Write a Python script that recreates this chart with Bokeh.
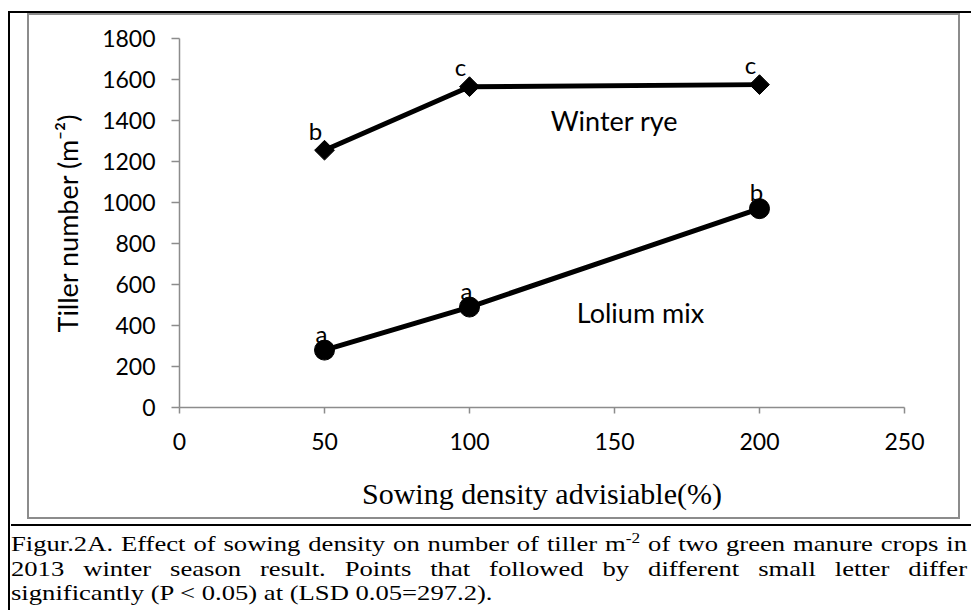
from bokeh.plotting import figure
from bokeh.models import Range1d, FixedTicker, Label, Div
from bokeh.layouts import column
from bokeh.embed import file_html
from bokeh.resources import INLINE
from bokeh.core.properties import value

# ---- data ----
density = [50, 100, 200]
winter_rye = [1255, 1565, 1575]
lolium_mix = [280, 490, 970]
rye_letters = ["b", "c", "c"]
lolium_letters = ["a", "a", "b"]
x_ticks = [0, 50, 100, 150, 200, 250]
y_ticks = [0, 200, 400, 600, 800, 1000, 1200, 1400, 1600, 1800]

SANS = "Lato"
SERIF = "Liberation Serif"
AXIS_GRAY = "#8c8c8c"

W, H = 929, 502
p = figure(width=W, height=H, x_range=Range1d(0, 250), y_range=Range1d(0, 1800),
           output_backend="svg", toolbar_location=None,
           min_border_left=150, min_border_right=W - 875,
           min_border_top=23, min_border_bottom=H - 392,
           margin=(2, 0, 7, 19),
           styles={"outline": f"2px solid {AXIS_GRAY}"})
p.outline_line_color = None
p.xgrid.visible = False
p.ygrid.visible = False
p.background_fill_color = "white"
p.border_fill_color = "white"

p.xaxis.ticker = FixedTicker(ticks=x_ticks)
p.yaxis.ticker = FixedTicker(ticks=y_ticks)
for ax in (p.xaxis, p.yaxis):
    ax.axis_line_color = AXIS_GRAY
    ax.axis_line_width = 1.5
    ax.major_tick_line_color = AXIS_GRAY
    ax.major_tick_line_width = 1.5
    ax.minor_tick_line_color = None
    ax.major_tick_in = 0
    ax.major_label_text_font = SANS
    ax.major_label_text_font_size = "23px"
    ax.major_label_text_color = "black"
    ax.axis_label_text_color = "black"
    ax.axis_label_text_font_style = "normal"

p.xaxis.major_tick_out = 6
p.yaxis.major_tick_out = 8
p.xaxis.major_label_standoff = 19
p.yaxis.major_label_standoff = 16

p.xaxis.axis_label = "Sowing density advisiable(%)"
p.xaxis.axis_label_text_font = SERIF
p.xaxis.axis_label_text_font_size = "30px"
p.xaxis.axis_label_standoff = 24

p.yaxis.axis_label = "Tiller number (m\u207b\u00b2)"
p.yaxis.axis_label_text_font = SANS
p.yaxis.axis_label_text_font_size = "27px"
p.yaxis.axis_label_standoff = 15

# ---- series ----
p.line(density, winter_rye, line_color="black", line_width=5)
p.scatter(density, winter_rye, marker="square", angle=0.785398, size=14,
          fill_color="black", line_color="black")
p.line(density, lolium_mix, line_color="black", line_width=5)
p.scatter(density, lolium_mix, marker="circle", size=20,
          fill_color="black", line_color="black")

p.text(density, winter_rye, text=rye_letters, x_offset=-9, y_offset=-20,
       text_align="center", text_baseline="alphabetic",
       text_font=value(SANS), text_font_size="24px", text_color="black")
p.text(density, lolium_mix, text=lolium_letters, x_offset=-3, y_offset=-17,
       text_align="center", text_baseline="alphabetic",
       text_font=value(SANS), text_font_size="24px", text_color="black")

p.add_layout(Label(x=128, y=1400, text="Winter rye", text_baseline="alphabetic",
                   text_font=SANS, text_font_size="27px", text_color="black"))
p.add_layout(Label(x=137, y=462, text="Lolium mix", text_baseline="alphabetic",
                   text_font=SANS, text_font_size="27px", text_color="black"))

# ---- caption ----
k = 1.21
inner_w = 956 / k
cap_html = (
    f'<div style="font-family:\'Liberation Serif\',serif;font-size:22px;line-height:24.5px;'
    f'color:#000;width:{inner_w:.1f}px;transform:scaleX({k});transform-origin:0 0;padding-top:6px;">'
    '<div style="text-align:justify;text-align-last:justify;">Figur.2A. Effect of sowing density on number of tiller '
    'm<sup style="font-size:0.65em;line-height:0;vertical-align:0.55em;">-2</sup> of two green manure crops in</div>'
    '<div style="text-align:justify;text-align-last:justify;">2013 winter season result. Points that followed by different small letter differ</div>'
    '<div>significantly (P &lt; 0.05) at (LSD 0.05=297.2).</div>'
    '</div>'
)
cap = Div(text=cap_html, width=960, height=86, margin=(0, 0, 0, 1),
          styles={"border-top": "2px solid black", "overflow": "visible"})

layout = column(p, cap, spacing=0, margin=(11, 0, 0, 8),
                styles={"border-top": "2px solid black", "border-left": "2px solid black"})
open("out.html", "w").write(file_html(layout, INLINE))
